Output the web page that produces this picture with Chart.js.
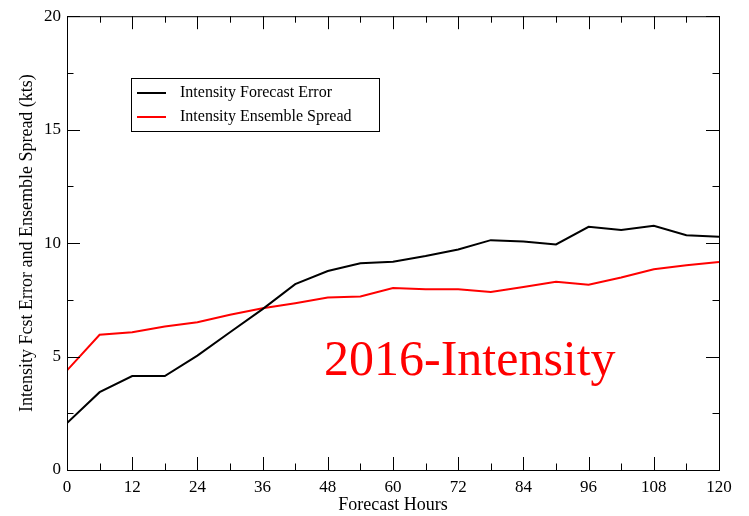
<!DOCTYPE html>
<html>
<head>
<meta charset="utf-8">
<script src="https://cdn.jsdelivr.net/npm/chart.js@4"></script>
<style>
  body { margin: 0; background: #fff; }
  #wrap { width: 749px; height: 516px; }
</style>
</head>
<body>
<div id="wrap"><canvas id="myChart" width="749" height="516"></canvas></div>
<script>
// forecast hours
const hours = [0, 6, 12, 18, 24, 30, 36, 42, 48, 54, 60, 66, 72, 78, 84, 90, 96, 102, 108, 114, 120];
// intensity forecast error (kts)
const fcstError = [2.07, 3.43, 4.14, 4.14, 5.04, 6.07, 7.09, 8.19, 8.77, 9.11, 9.18, 9.43, 9.72, 10.13, 10.07, 9.94, 10.72, 10.58, 10.76, 10.35, 10.28];
// intensity ensemble spread (kts)
const ensSpread = [4.39, 5.96, 6.07, 6.32, 6.51, 6.84, 7.13, 7.35, 7.6, 7.65, 8.02, 7.97, 7.97, 7.85, 8.07, 8.3, 8.16, 8.48, 8.85, 9.02, 9.17];
const xTicks = [0, 12, 24, 36, 48, 60, 72, 84, 96, 108, 120];
const yTicks = [0, 5, 10, 15, 20];

const serif = '"Liberation Serif", "Times New Roman", serif';

const ctx = document.getElementById('myChart');

function pts(vals){
  return hours.map((h, i) => ({x: h, y: vals[i]}));
}

// box, inward ticks, legend and the big label
const framePlugin = {
  id: 'frame',
  afterDraw(chart){
    const c = chart.ctx;
    const a = chart.chartArea;
    const sx = chart.scales.x, sy = chart.scales.y;
    c.save();
    c.strokeStyle = '#000';
    c.lineWidth = 1;
    c.strokeRect(a.left + 0.5, a.top + 0.5, a.right - a.left, a.bottom - a.top);

    c.beginPath();
    for(let h = 0; h <= 120; h += 6){
      const px = Math.round(sx.getPixelForValue(h)) + 0.5;
      const len = (h % 12 === 0) ? 13 : 6.5;
      c.moveTo(px, a.bottom); c.lineTo(px, a.bottom - len);
      c.moveTo(px, a.top); c.lineTo(px, a.top + len);
    }
    for(let v = 0; v <= 20; v += 2.5){
      const py = Math.round(sy.getPixelForValue(v)) + 0.5;
      const len = (v % 5 === 0) ? 13 : 6.5;
      c.moveTo(a.left, py); c.lineTo(a.left + len, py);
      c.moveTo(a.right, py); c.lineTo(a.right - len, py);
    }
    c.stroke();

    // legend
    c.fillStyle = '#fff';
    c.fillRect(131.5, 78.5, 248, 53);
    c.strokeRect(131.5, 78.5, 248, 53);
    const items = chart.data.datasets;
    c.font = '16px ' + serif;
    c.textBaseline = 'middle';
    items.forEach((ds, i) => {
      const y = 93 + i * 24;
      c.strokeStyle = ds.borderColor;
      c.lineWidth = 2;
      c.beginPath(); c.moveTo(137, y); c.lineTo(166, y); c.stroke();
      c.fillStyle = '#000';
      c.fillText(ds.label, 180, y);
    });

    // annotation
    c.fillStyle = '#ff0000';
    c.font = '50px ' + serif;
    c.textBaseline = 'alphabetic';
    c.fillText('2016-Intensity', sx.getPixelForValue(47.3), sy.getPixelForValue(4.17));
    c.restore();
  }
};

new Chart(ctx, {
  type: 'line',
  data: {
    datasets: [{
      label: 'Intensity Forecast Error',
      data: pts(fcstError),
      borderColor: '#000000',
      borderWidth: 2,
      pointRadius: 0,
      tension: 0
    }, {
      label: 'Intensity Ensemble Spread',
      data: pts(ensSpread),
      borderColor: '#ff0000',
      borderWidth: 2,
      pointRadius: 0,
      tension: 0
    }]
  },
  options: {
    responsive: false,
    animation: false,
    layout: { padding: { left: 0, top: 11, right: 30, bottom: 0 } },
    plugins: { legend: { display: false }, tooltip: { enabled: false } },
    scales: {
      x: {
        type: 'linear',
        min: 0, max: 120,
        afterFit(s){ s.height = 46; },
        afterBuildTicks(s){ s.ticks = xTicks.map(v => ({value: v})); },
        grid: { display: false, drawTicks: false },
        border: { display: false },
        ticks: { color: '#000', padding: 7, maxRotation: 0, font: { family: serif, size: 17 } },
        title: { display: true, text: 'Forecast Hours', color: '#000', padding: { top: 0, bottom: 0 }, font: { family: serif, size: 18 } }
      },
      y: {
        min: 0, max: 20,
        afterFit(s){ s.width = 67; },
        afterBuildTicks(s){ s.ticks = yTicks.map(v => ({value: v})); },
        grid: { display: false, drawTicks: false },
        border: { display: false },
        ticks: { color: '#000', padding: 6, font: { family: serif, size: 17 } },
        title: { display: true, text: 'Intensity Fcst Error and Ensemble Spread (kts)', color: '#000', padding: { top: 16, bottom: 0 }, font: { family: serif, size: 18 } }
      }
    }
  },
  plugins: [framePlugin]
});
</script>
</body>
</html>
